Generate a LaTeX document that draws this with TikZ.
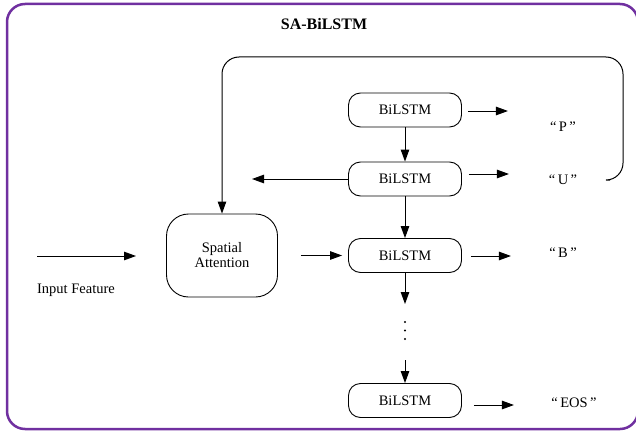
\documentclass[tikz,border=0pt]{standalone}
\usepackage{fontspec}
\setmainfont{Liberation Serif}
\usetikzlibrary{arrows.meta}
\definecolor{framepurple}{RGB}{112,48,160}
\tikzset{
  lstm/.style={draw, line width=0.9pt, rounded corners=12pt, minimum width=113pt, minimum height=34pt, inner sep=0pt, font=\fontsize{14.5}{17}\selectfont},
  attbox/.style={draw, line width=0.9pt, rounded corners=22pt, minimum width=111pt, minimum height=83pt, inner sep=0pt, align=center, font=\fontsize{14.5}{17}\selectfont},
  lbl/.style={inner sep=0pt, font=\fontsize{14.5}{17}\selectfont},
  arr/.style={line width=1pt, -{Triangle[length=12pt,width=8.5pt]}},
  dotmark/.style={fill, circle, inner sep=0pt, minimum size=2.4pt}
}
\begin{document}
\begin{tikzpicture}[x=1pt,y=-1pt]
\useasboundingbox (0,0) rectangle (636,433);
% outer frame
\draw[framepurple, line width=2.5pt, rounded corners=18pt] (7,4) rectangle (638,429);
\node[font=\fontsize{16}{19}\selectfont\bfseries, inner sep=0pt] (title) at (324,24) {SA-BiLSTM};

% boxes
\node[lstm] (b1) at (405,110) {BiLSTM};
\node[lstm] (b2) at (405,179) {BiLSTM};
\node[lstm] (b3) at (405,255.5) {BiLSTM};
\node[lstm] (b4) at (405,400.5) {BiLSTM};
\node[attbox] (sa) at (222,255.5) {Spatial\\[-2pt]Attention};

% labels
\node[lbl] (lp) at (563,127) {“\,P\,”};
\node[lbl] (lu) at (563,180) {“\,U\,”};
\node[lbl] (lb) at (563,253) {“\,B\,”};
\node[lbl] (leos) at (574,403) {“\,EOS\,”};
\node[lbl] (lin) at (76,290) {Input Feature};

% coordinates
\coordinate (inS) at (37,256);
\coordinate (inE) at (136,256);
\coordinate (leftE) at (252,179);
\coordinate (d1) at (405,304);
\coordinate (d2) at (405,360);
\coordinate (loopS) at (610,180);
\coordinate (loopR) at (623,180);
\coordinate (loopTR) at (623,57);
\coordinate (loopTL) at (222,57);

% arrows
\draw[arr] (inS) -- (inE);
\draw[arr] ([xshift=23pt]sa.east) -- ([xshift=-6pt]b3.west);
\draw[arr] (b2.west) -- (leftE);
\draw[arr] (b1.south) -- (b2.north);
\draw[arr] (b2.south) -- (b3.north);
\draw[arr] (b3.south) -- (d1);
\draw[arr] (d2) -- (b4.north);
\node[dotmark] (dt1) at (405,322) {};
\node[dotmark] (dt2) at (405,330.5) {};
\node[dotmark] (dt3) at (405,339) {};

\draw[arr] ([xshift=6pt,yshift=-1pt]b1.east) -- ([xshift=46pt,yshift=-1pt]b1.east);
\draw[arr] ([xshift=7pt,yshift=5pt]b2.east) -- ([xshift=47pt,yshift=5pt]b2.east);
\draw[arr] ([xshift=9pt,yshift=-0.5pt]b3.east) -- ([xshift=49pt,yshift=-0.5pt]b3.east);
\draw[arr] ([xshift=12pt,yshift=-4.5pt]b4.east) -- ([xshift=52pt,yshift=-4.5pt]b4.east);

% feedback loop
\draw[arr, rounded corners=17pt] (loopS) -- (loopR) -- (loopTR) -- (loopTL) -- (sa.north);
\end{tikzpicture}
\end{document}
